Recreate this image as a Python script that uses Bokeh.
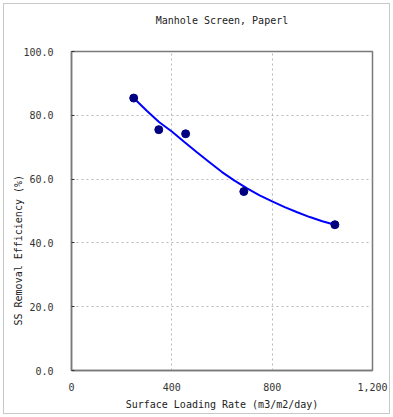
from bokeh.plotting import figure
from bokeh.embed import file_html
from bokeh.resources import INLINE
from bokeh.models import FixedTicker, Range1d, Title, LinearAxis

# data
loading_rate = [248, 348, 455, 687, 1050]
removal_eff = [85.4, 75.5, 74.2, 56.1, 45.7]

trend_x = [248, 300, 350, 400, 450, 500, 550, 600, 650, 700, 750, 800, 850, 900, 950, 1000, 1050]
trend_y = [85.4, 81.4, 77.8, 74.9, 71.6, 68.4, 65.3, 62.2, 59.5, 57.1, 54.9, 53.0, 51.2, 49.6, 48.1, 46.8, 45.7]

x_ticks = [0, 400, 800, 1200]
x_tick_labels = ["0", "400", "800", "1,200"]
y_ticks = [0, 20, 40, 60, 80, 100]
y_tick_labels = ["0.0", "20.0", "40.0", "60.0", "80.0", "100.0"]

title_text = "Manhole Screen, Paperl"
x_title = "Surface Loading Rate (m3/m2/day)"
y_title = "SS Removal Efficiency (%)"

FONT = "DejaVu Sans Mono"

p = figure(width=393, height=417, output_backend="svg", toolbar_location=None,
           x_range=Range1d(0, 1200), y_range=Range1d(0, 100))
p.min_border_left = 71
p.min_border_right = 21
p.min_border_top = 51
p.min_border_bottom = 47
p.background_fill_color = "white"
p.border_fill_alpha = 0
p.styles = {"outline": "1px solid #c8c8c8", "outline-offset": "-4px", "background": "white"}

bottom_axis = p.below[0]
left_axis = p.left[0]

# chart title, carried by an empty axis above the frame
top_axis = LinearAxis(ticker=FixedTicker(ticks=[]), axis_label=title_text,
                      axis_line_color=None, major_tick_line_color=None,
                      minor_tick_line_color=None, major_label_standoff=0,
                      axis_label_standoff=26, axis_label_text_font=FONT,
                      axis_label_text_font_size="10px", axis_label_text_font_style="normal",
                      axis_label_text_color="#222222")
p.add_layout(top_axis, "above")

ytitle = Title(text=y_title, align="left", offset=45, standoff=-6,
               text_font=FONT, text_font_size="10px", text_font_style="normal",
               text_color="#222222")
p.add_layout(ytitle, "left")

p.outline_line_color = "#7a7a7a"
p.outline_line_width = 1.5
p.outline_line_alpha = 1

for ax in (bottom_axis, left_axis):
    ax.axis_line_color = "#7a7a7a"
    ax.axis_line_width = 1.5
    ax.major_label_text_font = FONT
    ax.major_label_text_font_size = "10px"
    ax.major_label_text_color = "#333333"
    ax.axis_label_text_font = FONT
    ax.axis_label_text_font_size = "10px"
    ax.axis_label_text_font_style = "normal"
    ax.axis_label_text_color = "#222222"
    ax.minor_tick_line_color = None

bottom_axis.ticker = FixedTicker(ticks=x_ticks)
bottom_axis.major_label_overrides = dict(zip(x_ticks, x_tick_labels))
bottom_axis.major_tick_line_color = None
bottom_axis.major_label_standoff = 6
bottom_axis.axis_label = x_title
bottom_axis.axis_label_standoff = 5

left_axis.ticker = FixedTicker(ticks=y_ticks)
left_axis.major_label_overrides = dict(zip(y_ticks, y_tick_labels))
left_axis.major_tick_in = 3
left_axis.major_tick_out = 0
left_axis.major_tick_line_color = "#333333"
left_axis.major_label_standoff = 18

p.xgrid.ticker = FixedTicker(ticks=[400, 800])
p.ygrid.ticker = FixedTicker(ticks=[20, 40, 60, 80])
for g in (p.xgrid[0], p.ygrid[0]):
    g.grid_line_color = "#b8b8b8"
    g.grid_line_dash = "2 3"
    g.grid_line_width = 1

p.line(trend_x, trend_y, line_color="#0000ff", line_width=2)
p.scatter(loading_rate, removal_eff, size=8, fill_color="#000080", line_color="#000080")

open("out.html", "w").write(file_html(p, INLINE))
